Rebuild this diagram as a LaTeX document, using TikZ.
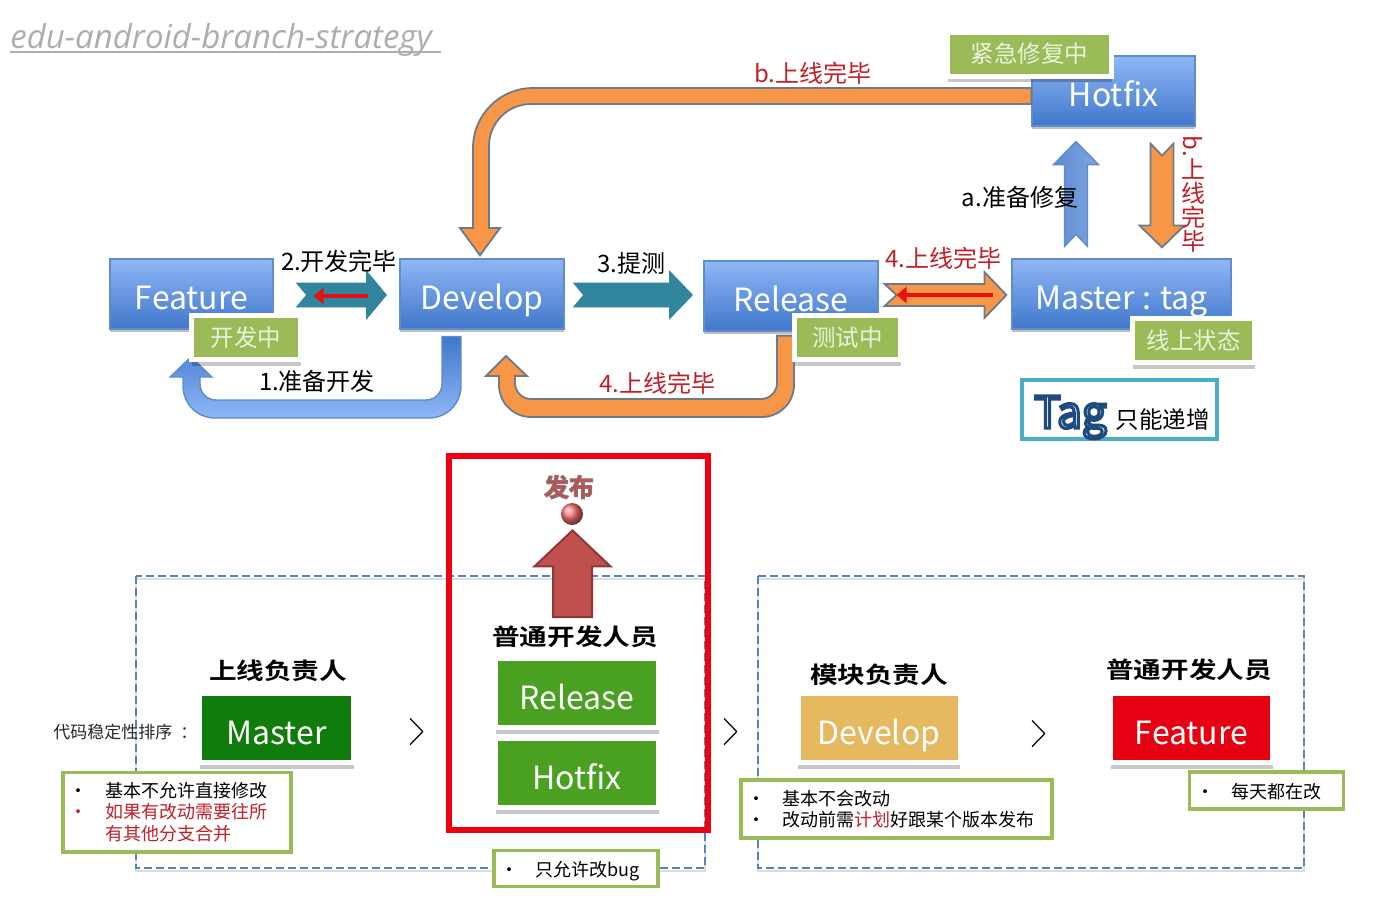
\documentclass[tikz,border=0pt]{standalone}
\usepackage{fontspec}
\usepackage{graphicx}
\setmainfont{Noto Sans CJK SC}[BoldFont={Noto Sans CJK SC Bold}]
\newfontfamily\titlefont{Open Sans}
\usetikzlibrary{positioning}
\usetikzlibrary{arrows.meta}
\usetikzlibrary{calc}
\usetikzlibrary{shadows}

\definecolor{boxtop}{HTML}{8FB7F6}
\definecolor{boxbottom}{HTML}{3F77CB}
\definecolor{boxedge}{HTML}{5F8CCB}
\definecolor{tealflow}{HTML}{31859C}
\definecolor{orangeflow}{HTML}{F79646}
\definecolor{flowedge}{HTML}{6C7B8C}
\definecolor{statusgreen}{HTML}{9BBB59}
\definecolor{statustext}{HTML}{EAF1DC}
\definecolor{redtext}{HTML}{C0202A}
\definecolor{redline}{HTML}{E81010}
\definecolor{redframe}{HTML}{EE0010}
\definecolor{darkgreen}{HTML}{107C0C}
\definecolor{midgreen}{HTML}{4AA021}
\definecolor{gold}{HTML}{E6B85F}
\definecolor{brightred}{HTML}{E60012}
\definecolor{tagteal}{HTML}{4BACC6}
\definecolor{groupblue}{HTML}{5B82B0}
\definecolor{brick}{HTML}{C0504D}
\definecolor{brickedge}{HTML}{8C3836}

\tikzset{
  softshadow/.style={general shadow={shadow xshift=0pt,shadow yshift=-3pt,fill=black,opacity=.22}},
  bluebox/.style={rectangle,draw=boxedge,line width=.6pt,top color=boxtop,bottom color=boxbottom,
    text=white,minimum height=35pt,inner sep=0pt,text height=18pt,text depth=3pt,
    font=\fontsize{16}{16}\selectfont,general shadow={shadow xshift=0pt,shadow yshift=-1.4pt,fill=black,opacity=.25}},
  statusbox/.style={rectangle,draw=white,line width=2.5pt,fill=statusgreen,text=statustext,
    minimum height=22pt,inner sep=0pt,font=\fontsize{11.75}{11.75}\selectfont,softshadow},
  cardbox/.style={rectangle,draw=white,line width=2.5pt,text=white,minimum height=34.5pt,inner sep=0pt,
    text height=19pt,text depth=3pt,font=\fontsize{16}{16}\selectfont,softshadow},
  flowlabel/.style={inner sep=0pt,font=\fontsize{12}{12}\selectfont},
  roletitle/.style={inner sep=0pt,font=\fontsize{11.5}{11.5}\selectfont\bfseries},
  notebox/.style={rectangle,draw=statusgreen,line width=1.8pt,fill=white,inner xsep=5pt,inner ysep=0pt,
    align=left,font=\fontsize{9}{10.6}\selectfont},
  oneline/.style={text height=8pt,text depth=0pt},
  orangepath/.style={draw=flowedge,line width=.9pt,fill=orangeflow},
  bluepath/.style={draw=boxedge,line width=.7pt,top color=boxbottom,bottom color=boxtop},
  redpointer/.style={draw=redline,line width=2pt,-{Triangle[width=8pt,length=5pt]}},
  groupframe/.style={draw=groupblue,line width=.7pt,dash pattern=on 4pt off 2pt,
    preaction={draw=groupblue!25,line width=1pt,transform canvas={yshift=-1.5pt}}}
}

% straight block arrow: style, from, to, half stem, half head, head length, notch
\newcommand{\flowarrow}[7][]{
  \coordinate (flowh) at ($(#3)!#6!(#2)$);
  \draw[#1] ($(#2)!#4!90:(#3)$) -- ($(flowh)!#4!90:(#3)$) -- ($(flowh)!#5!90:(#3)$) -- (#3)
    -- ($(flowh)!#5!-90:(#3)$) -- ($(flowh)!#4!-90:(#3)$) -- ($(#2)!#4!-90:(#3)$)
    -- ($(#2)!#7!(#3)$) -- cycle;
}
\newcommand{\notebullet}[1][black]{\hspace*{-2.5pt}\makebox[17.5pt][l]{\textcolor{#1}{•}}}
% text with a coloured outline: pdf stroke settings, text
\newcommand{\outlined}[2]{\special{pdf:code 2 Tr #1}#2\special{pdf:code 0 Tr}}

\begin{document}
\begin{tikzpicture}[x=.5pt,y=-.5pt]
    \useasboundingbox (0,0) rectangle (1398,911);

    % Title
    \node[inner sep=0pt,anchor=base west,text=black!32,font=\fontsize{16.5}{16.5}\titlefont\itshape] (title) at (10,48)
        {edu-android-branch-strategy};
    \draw[black!32,line width=1.1pt] ($(title.base west)+(0,4)$) -- ($(title.base west)+(431,4)$);

    % Branch boxes
    \foreach \name/\cx/\cy/\w/\txt in {feature/191.5/294/81.5/Feature, develop/482/294/82/Develop,
        release/791/296/87/Release, master/1121.5/294/109.5/Master : tag, hotfix/1113.5/91/81.5/Hotfix}
        \node[bluebox,minimum width=\w pt] (\name) at (\cx,\cy) {\txt};

    % Straight arrows
    \coordinate (fd0) at ($(feature.east)+(23,1)$);
    \coordinate (fd1) at ($(develop.west)+(-13,1)$);
    \coordinate (dr0) at ($(develop.east)+(9,1)$);
    \coordinate (dr1) at ($(release.west)+(-11,-1)$);
    \coordinate (rm0) at ($(release.east)+(6,-1)$);
    \coordinate (rm1) at ($(master.west)+(-5,1)$);
    \coordinate (mh0) at ($(master.north)+(-45.5,-12)$);
    \coordinate (mh1) at ($(hotfix.south)+(-37.5,15)$);
    \coordinate (hm0) at ($(hotfix.south)+(48.5,17)$);
    \coordinate (hm1) at ($(master.north)+(40.5,-11)$);
    \flowarrow[draw=tealflow,fill=tealflow]{fd0}{fd1}{6pt}{12pt}{10pt}{5pt}
    \flowarrow[draw=tealflow,fill=tealflow]{dr0}{dr1}{6pt}{12pt}{11.5pt}{5pt}
    \flowarrow[orangepath]{rm0}{rm1}{5.5pt}{11.5pt}{11pt}{6pt}
    \flowarrow[draw=boxedge,line width=.7pt,left color=boxbottom!85!white,right color=boxtop!90!black]{mh0}{mh1}{5.75pt}{11.25pt}{11.5pt}{6pt}
    \flowarrow[orangepath]{hm0}{hm1}{5.75pt}{11.25pt}{11pt}{6pt}

    % Red pointers
    \coordinate (fdp0) at ($(fd1)+(-18,1)$);
    \coordinate (fdp1) at ($(fd0)+(17,1)$);
    \coordinate (rmp0) at ($(rm1)+(-13,0)$);
    \coordinate (rmp1) at ($(rm0)+(12,0)$);
    \draw[redpointer] (fdp0) -- (fdp1);
    \draw[redpointer] (rmp0) -- (rmp1);

    % Bent arrows
    \draw[orangepath] ($(hotfix.west)+(0,-3)$) [rounded corners=30pt] -- (473,88) [sharp corners] -- (473,228) -- (460,228)
        -- ($(develop.north)+(-2,-3)$) -- (500,228) -- (489,228) [rounded corners=21pt] -- (489,104) [sharp corners]
        -- ($(hotfix.west)+(0,13)$) -- cycle;
    \draw[bluepath] ($(develop.south)+(-40,7)$) [rounded corners=8pt] -- (442,400) -- (200,400)
        [sharp corners] -- (200,377) -- (212,377) -- (191,357) -- (170,377) -- (183,377)
        [rounded corners=16pt] -- (183,418) -- (461,418) [sharp corners] -- ($(develop.south)+(-21,7)$) -- cycle;
    \draw[orangepath] ($(release.south)+(-14,4)$) [rounded corners=8pt] -- (777,399) -- (515,399)
        [sharp corners] -- (515,376) -- (527,376) -- (506,356) -- (486,376) -- (499,376)
        [rounded corners=16pt] -- (499,417) -- (794,417) [sharp corners] -- ($(release.south)+(3,4)$) -- cycle;

    % Status boxes
    \foreach \name/\cx/\cy/\w/\txt in {devstate/246/337.5/54.5/开发中, teststate/847.5/337.5/53/测试中,
        onlinestate/1193.5/340.5/61/线上状态, fixstate/1029.5/54/82/紧急修复中}
        \node[statusbox,minimum width=\w pt] (\name) at (\cx,\cy) {\txt};

    % Flow labels
    \foreach \name/\cx/\cy/\col/\txt in {lab2/339/261/black/2.开发完毕, lab3/631/263/black/3.提测,
        lab1/317/381/black/1.准备开发, lab4/657/383/redtext/4.上线完毕, lab4top/943/258/redtext/4.上线完毕,
        labb/813/73/redtext/b.上线完毕, laba/1020/197/black/a.准备修复}
        \node[flowlabel,text=\col] (\name) at (\cx,\cy) {\txt};
    \node[flowlabel,text=redtext,align=center,font=\fontsize{12}{12}\selectfont] (labbdown) at (1193,194)
        {\rotatebox{-90}{b.}\\上\\线\\完\\毕};

    % Tag note
    \node[rectangle,draw=tagteal,line width=1.8pt,minimum width=97.5pt,minimum height=29.75pt,inner sep=0pt,
        text height=23pt,text depth=4.5pt] (tagnote) at (1119.5,409.5)
        {\hspace*{2.5pt}\textcolor{boxtop!35!white}{\fontsize{22}{22}\selectfont\outlined{1.5 w 0.12 0.29 0.49 RG}{Tag}}\hspace{4.5pt}{\fontsize{11.75}{11.75}\selectfont 只能递增}};

    % Lower part
    \draw[groupframe] (136,576) rectangle (705,868);
    \draw[groupframe] (758,576) rectangle (1304,868);
    \draw[draw=redframe,line width=3pt] (449,456) rectangle (708,830);

    \node[inner sep=0pt,text=brick,font=\fontsize{12.5}{12.5}\selectfont\bfseries] (publish) at (569,487)
        {\outlined{.5 w 0.55 0.45 0.45 RG}{发布}};
    \node[circle,minimum size=11pt,inner sep=0pt,ball color=red!55!white] (ball) at (572,514) {};
    \coordinate (up0) at (572.5,617);
    \coordinate (up1) at ($(ball.south)+(.5,5)$);
    \flowarrow[draw=brickedge,line width=1pt,fill=brick]{up0}{up1}{9.75pt}{19pt}{18pt}{0pt}

    \foreach \name/\cx/\cy/\txt in {roleone/278/671/上线负责人, roletwo/575/637/普通开发人员,
        rolethree/879/675/模块负责人, rolefour/1189/670/普通开发人员}
        \node[roletitle] (\name) at (\cx,\cy) {\scalebox{1.2}[1]{\txt}};

    \foreach \name/\cx/\cy/\w/\col/\txt in {cmaster/276.5/728/77/darkgreen/Master, crelease/577/693/81.5/midgreen/Release,
        chotfix/577/773/81.5/midgreen/Hotfix, cdevelop/879/728/81/gold/Develop, cfeature/1191.5/728/81/brightred/Feature}
        \node[cardbox,minimum width=\w pt,fill=\col] (\name) at (\cx,\cy) {\txt};

    \node[inner sep=0pt,anchor=west,text=black!85,font=\fontsize{8.5}{8.5}\selectfont] (ranking) at (53,732) {代码稳定性排序\hspace{4pt}：};

    \foreach \name/\cx/\cy in {gtone/417.5/732, gttwo/731/732, gtthree/1039.5/734}
        \node[inner sep=0pt,font=\fontsize{25}{25}\selectfont] (\name) at (\cx,\cy) {\scalebox{.45}[1]{$>$}};

    % Notes
    \node[notebox,minimum width=114pt,minimum height=39.7pt,text width=102pt] (notemaster) at (177,812)
        {\notebullet 基本不允许直接修改\\ \notebullet[redtext]\textcolor{redtext}{如果有改动需要往所}\\ \hspace*{15pt}\textcolor{redtext}{有其他分支合并}};
    \node[notebox,oneline,minimum width=82.2pt,minimum height=18pt,text width=71pt] (notehotfix) at (576,868.5)
        {\notebullet 只允许改bug};
    \node[notebox,minimum width=155.7pt,minimum height=29.2pt,text width=144pt] (notedevelop) at (896.5,809)
        {\notebullet 基本不会改动\\ \notebullet 改动前需\textcolor{redtext}{计划}好跟某个版本发布};
    \node[notebox,oneline,minimum width=77pt,minimum height=18.7pt,text width=65pt] (notefeature) at (1266.5,790.5)
        {\notebullet 每天都在改};
\end{tikzpicture}
\end{document}
